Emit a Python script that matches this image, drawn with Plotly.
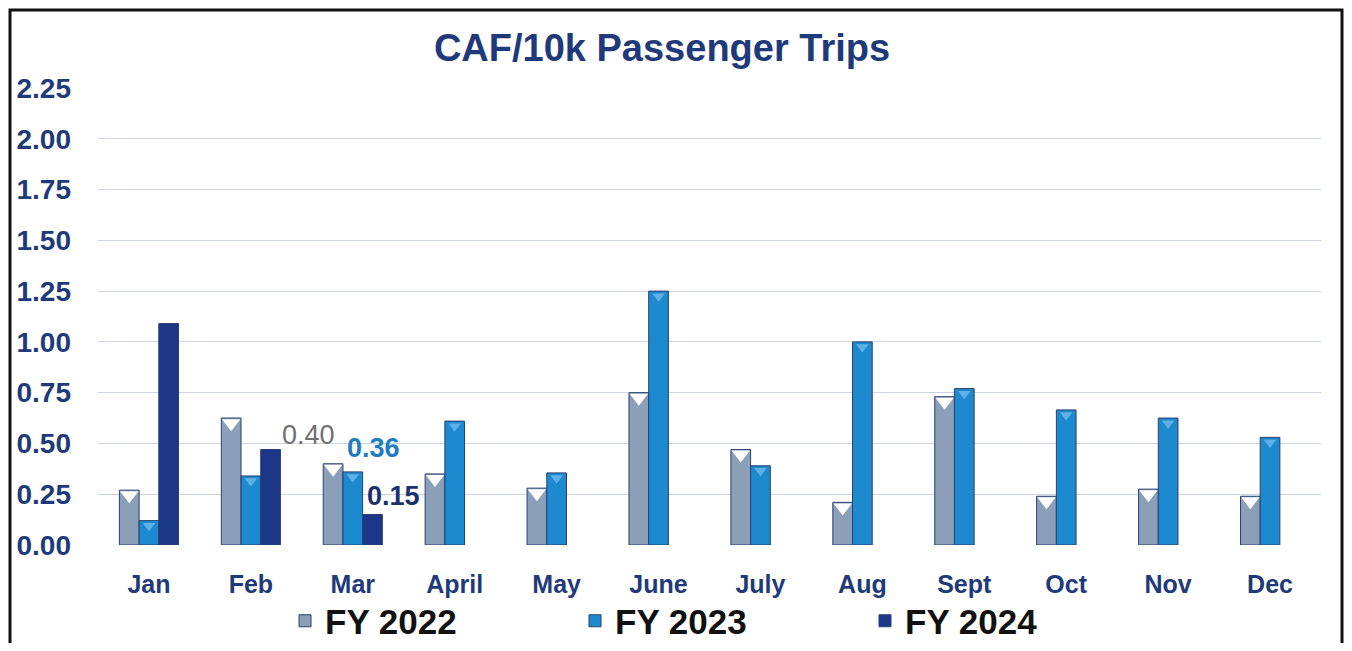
import plotly.graph_objects as go

months = ["Jan", "Feb", "Mar", "April", "May", "June", "July", "Aug", "Sept", "Oct", "Nov", "Dec"]
fy2022 = [0.27, 0.625, 0.40, 0.35, 0.28, 0.75, 0.47, 0.21, 0.73, 0.24, 0.275, 0.24]
fy2023 = [0.12, 0.34, 0.36, 0.61, 0.355, 1.25, 0.39, 1.00, 0.77, 0.665, 0.625, 0.53]
fy2024 = [1.09, 0.47, 0.15, None, None, None, None, None, None, None, None, None]
y_ticks = [0.0, 0.25, 0.5, 0.75, 1.0, 1.25, 1.5, 1.75, 2.0, 2.25]

# page body has an 8px margin, so the figure is sized to fit inside the window
W, H = 1336, 635
L, R, T, B = 90, 23, 80, 98
PW, PH = W - L - R, H - T - B

NAVY = "#1f3a7a"
c22 = "#8c9fb8"
c23 = "#1d8ad0"
c24 = "#1c3688"

fig = go.Figure()
for name, vals, col, grp in [("FY 2022", fy2022, c22, "a"), ("FY 2023", fy2023, c23, "b"), ("FY 2024", fy2024, c24, "c")]:
    fig.add_trace(go.Bar(
        name=name, x=months, y=vals, offsetgroup=grp,
        marker=dict(color=col, line=dict(color="#2b3f70", width=1)),
    ))

# bevel triangles on top of FY2022 / FY2023 bars
for vals, col, grp, size in [(fy2022, "#ffffff", "a", 16), (fy2023, "#5fb0e6", "b", 11), (fy2024, "rgba(0,0,0,0)", "c", 1)]:
    fig.add_trace(go.Scatter(
        x=months, y=[v - 0.025 if v is not None else None for v in vals], mode="markers", offsetgroup=grp,
        marker=dict(symbol="triangle-down", size=size, color=col, line=dict(width=0)),
        showlegend=False, hoverinfo="skip",
    ))

labels = [("Mar", fy2022[2], "0.40", "#707070", "normal", -44, 12),
          ("Mar", fy2023[2], "0.36", "#1d7cc4", "bold", 21, 7),
          ("Mar", fy2024[2], "0.15", "#1c2f70", "bold", 41, 2)]
for xm, yv, txt, col, weight, xs, ys in labels:
    fig.add_annotation(x=xm, y=yv, text=txt, showarrow=False, xshift=xs, yshift=ys, yanchor="bottom",
                       font=dict(family="Liberation Sans, Arial", size=27, color=col, weight=weight))

fig.update_layout(
    width=W, height=H,
    barmode="group", bargap=0.42, bargroupgap=0,
    scattermode="group", scattergap=0.42,
    paper_bgcolor="white", plot_bgcolor="white",
    margin=dict(l=L, r=R, t=T, b=B, autoexpand=False),
    title=dict(text="<b>CAF/10k Passenger Trips</b>", x=654 / W, xanchor="center",
               yref="container", y=1 - 40 / H, yanchor="middle",
               font=dict(family="Liberation Sans, Arial", size=38, color=NAVY)),
    xaxis=dict(tickfont=dict(family="Liberation Sans, Arial", size=25, color=NAVY, weight="bold"),
               showgrid=False, showline=False, ticks="", ticklabelstandoff=22, automargin=False),
    yaxis=dict(range=[0, 2.25], tickvals=y_ticks, ticktext=[f"{v:.2f}" for v in y_ticks],
               tickfont=dict(family="Liberation Sans, Arial", size=28, color=NAVY, weight="bold"),
               showgrid=True, gridcolor="#ccd5e2", gridwidth=1, zeroline=False, showline=False,
               ticklabelstandoff=26, automargin=False),
    legend=dict(orientation="h", xref="container", x=712 / W, xanchor="center",
                yref="container", y=1 - 613 / H, yanchor="middle", bgcolor="rgba(0,0,0,0)",
                font=dict(family="Liberation Sans, Arial", size=35, color="#111111", weight="bold"),
                entrywidth=245, itemwidth=30, traceorder="normal"),
    shapes=[dict(type="rect", xref="paper", yref="paper",
                 x0=(2 - L) / PW, x1=(1334 - L) / PW, y0=(H - B - 700) / PH, y1=(H - B - 2) / PH,
                 line=dict(color="#111111", width=3), fillcolor="rgba(0,0,0,0)", layer="above")],
)

fig.write_html("out.html")
